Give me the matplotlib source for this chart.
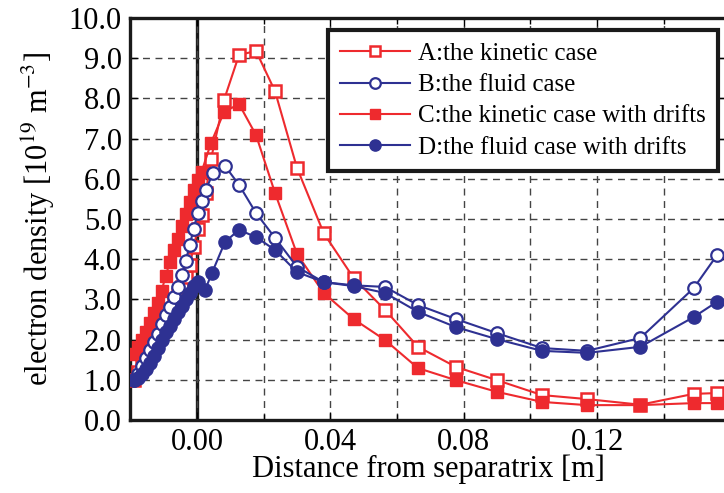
import matplotlib
matplotlib.use("Agg")
import matplotlib.pyplot as plt
from matplotlib.ticker import MultipleLocator, FormatStrFormatter

plt.rcParams['font.family'] = ['Liberation Serif', 'DejaVu Serif']
plt.rcParams['mathtext.fontset'] = 'stix'

# distance from separatrix [m]
x_a = [-0.0190, -0.0178, -0.0166, -0.0154, -0.0142, -0.0130, -0.0118, -0.0106, -0.0094,
       -0.0082, -0.0070, -0.0058, -0.0046, -0.0034, -0.0022, -0.0010, 0.0002, 0.0014,
       0.0026, 0.0042, 0.0081, 0.0126, 0.0177, 0.0234, 0.0300, 0.0380, 0.0470, 0.0564,
       0.0663, 0.0777, 0.0900, 0.1035, 0.1170, 0.1330, 0.1490, 0.1560]
x_b = [-0.0190, -0.0178, -0.0166, -0.0154, -0.0142, -0.0130, -0.0118, -0.0106, -0.0094,
       -0.0082, -0.0070, -0.0058, -0.0046, -0.0034, -0.0022, -0.0010, 0.0002, 0.0014,
       0.0026, 0.0048, 0.0084, 0.0126, 0.0177, 0.0234, 0.0300, 0.0380, 0.0470, 0.0564,
       0.0663, 0.0777, 0.0900, 0.1035, 0.1170, 0.1330, 0.1490, 0.1560]
x_c = [-0.0190, -0.0178, -0.0166, -0.0154, -0.0142, -0.0130, -0.0118, -0.0106, -0.0094,
       -0.0082, -0.0070, -0.0058, -0.0046, -0.0034, -0.0022, -0.0010, 0.0002, 0.0014,
       0.0042, 0.0081, 0.0126, 0.0177, 0.0234, 0.0300, 0.0380, 0.0470, 0.0564,
       0.0663, 0.0777, 0.0900, 0.1035, 0.1170, 0.1330, 0.1490, 0.1560]
x_d = [-0.0190, -0.0178, -0.0166, -0.0154, -0.0142, -0.0130, -0.0118, -0.0106, -0.0094,
       -0.0082, -0.0070, -0.0058, -0.0046, -0.0034, -0.0022, -0.0010, 0.0002,
       0.0024, 0.0045, 0.0084, 0.0126, 0.0177, 0.0234, 0.0300, 0.0380, 0.0470, 0.0564,
       0.0663, 0.0777, 0.0900, 0.1035, 0.1170, 0.1330, 0.1490, 0.1560]

# electron density [1e19 m^-3]
ne_a = [1.00, 1.20, 1.40, 1.60, 1.80, 1.98, 2.15, 2.32, 2.50, 2.68, 2.90, 3.10, 3.32,
        3.55, 3.85, 4.30, 4.75, 5.10, 5.65, 6.49, 7.96, 9.08, 9.18, 8.18, 6.27, 4.65,
        3.53, 2.74, 1.82, 1.32, 0.99, 0.62, 0.52, 0.38, 0.65, 0.67]
ne_b = [1.00, 1.15, 1.35, 1.55, 1.75, 1.95, 2.15, 2.38, 2.60, 2.82, 3.05, 3.30, 3.60,
        3.95, 4.35, 4.75, 5.15, 5.45, 5.72, 6.14, 6.32, 5.85, 5.15, 4.53, 3.81, 3.43,
        3.35, 3.31, 2.86, 2.51, 2.16, 1.79, 1.72, 2.04, 3.28, 4.10]
ne_c = [1.65, 1.82, 2.00, 2.20, 2.42, 2.65, 2.92, 3.22, 3.58, 3.92, 4.22, 4.50, 4.82,
        5.12, 5.42, 5.72, 5.98, 6.18, 6.89, 7.66, 7.86, 7.09, 5.65, 4.13, 3.16, 2.51,
        1.99, 1.29, 0.99, 0.70, 0.45, 0.37, 0.37, 0.42, 0.42]
ne_d = [1.00, 1.05, 1.15, 1.28, 1.42, 1.60, 1.78, 2.00, 2.18, 2.35, 2.52, 2.68, 2.84,
        3.00, 3.16, 3.33, 3.43, 3.23, 3.66, 4.43, 4.73, 4.55, 4.23, 3.68, 3.43, 3.33,
        3.16, 2.69, 2.31, 2.01, 1.72, 1.67, 1.82, 2.56, 2.94]

red = '#ee2a2e'
blue = '#2e3192'

fig = plt.figure(figsize=(7.24, 4.93), dpi=100)
ax = fig.add_axes([130 / 724, 73 / 493, 597 / 724, 402 / 493])

ax.axvline(0.0, color='#1a1a1a', lw=2.4, zorder=1)

la, = ax.plot(x_a, ne_a, '-s', color=red, lw=1.5, ms=8.5, mfc='white', mec=red, mew=1.8,
              label='A:the kinetic case', zorder=3)
lc, = ax.plot(x_c, ne_c, '-s', color=red, lw=1.5, ms=9, mfc=red, mec=red,
              label='C:the kinetic case with drifts', zorder=4)
lb, = ax.plot(x_b, ne_b, '-o', color=blue, lw=1.5, ms=9, mfc='white', mec=blue, mew=1.6,
              label='B:the fluid case', zorder=5)
ld, = ax.plot(x_d, ne_d, '-o', color=blue, lw=1.5, ms=9.5, mfc=blue, mec=blue,
              label='D:the fluid case with drifts', zorder=6)

ax.set_xlim(-0.0201, 0.1590)
ax.set_ylim(0, 10)
ax.xaxis.set_major_locator(MultipleLocator(0.04))
ax.xaxis.set_minor_locator(MultipleLocator(0.02))
ax.xaxis.set_major_formatter(FormatStrFormatter('%.2f'))
ax.yaxis.set_major_locator(MultipleLocator(1.0))
ax.yaxis.set_major_formatter(FormatStrFormatter('%.1f'))

ax.grid(True, which='both', axis='x', ls=(0, (5, 4)), color='#444444', lw=1.0, zorder=0)
ax.grid(True, which='major', axis='y', ls=(0, (5, 4)), color='#444444', lw=1.0, zorder=0)

ax.tick_params(which='both', direction='in', top=True, right=True, labelsize=22,
               pad=6, width=1.0)
ax.tick_params(which='major', length=6)
ax.tick_params(which='minor', length=4)
for s in ax.spines.values():
    s.set_linewidth(2.4)
    s.set_color('#1a1a1a')

ax.set_xlabel('Distance from separatrix [m]', fontsize=22, labelpad=-2)
ax.set_ylabel('electron density [10$^{19}$ m$^{-3}$]', fontsize=22, labelpad=8)

leg = ax.legend(handles=[la, lb, lc, ld], loc='upper right',
                bbox_to_anchor=(718 / 724, 1 - 30 / 493), bbox_transform=fig.transFigure,
                fontsize=18, frameon=True, fancybox=False, framealpha=1,
                handlelength=2.8, handletextpad=0.3, borderpad=0.5, labelspacing=0.35,
                borderaxespad=0, markerscale=0.85)
leg.get_frame().set_edgecolor('#1a1a1a')
leg.get_frame().set_linewidth(3)
leg.set_zorder(10)

fig.savefig('out.png', dpi=100)
